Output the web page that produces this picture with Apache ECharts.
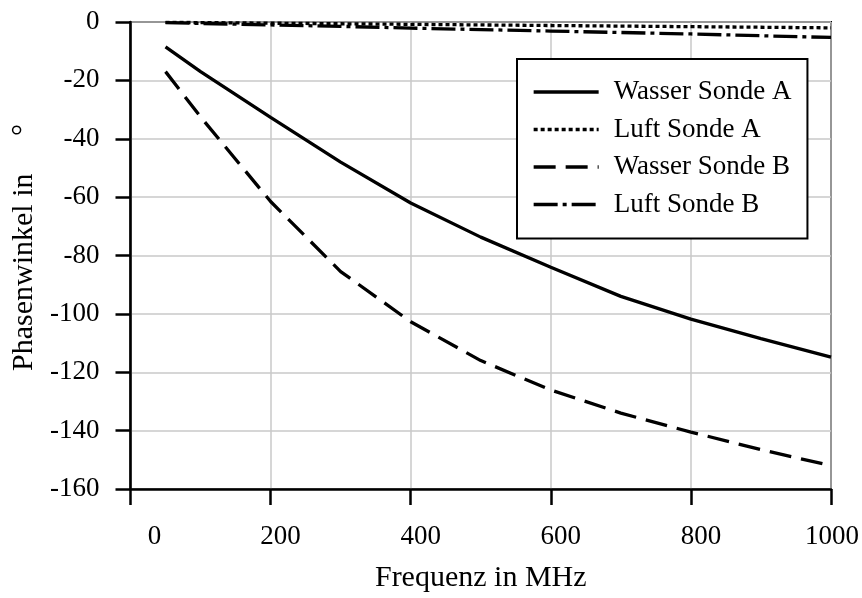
<!DOCTYPE html>
<html>
<head>
<meta charset="utf-8">
<script src="https://cdn.jsdelivr.net/npm/echarts@6/dist/echarts.min.js"></script>
<style>
html,body{margin:0;padding:0;background:#fff;}
#chart{width:862px;height:598px;}
</style>
</head>
<body>
<div id="chart"></div>
<script>
// Data
var freq = [50, 100, 200, 300, 400, 500, 600, 700, 800, 900, 1000];
var wasserA = [-8.5, -17, -32.7, -48, -62, -73.7, -84, -94, -101.8, -108.5, -114.8];
var luftA   = [-0.1, -0.2, -0.4, -0.6, -0.8, -1.0, -1.2, -1.4, -1.6, -1.8, -2.0];
var wasserB = [-17, -32.5, -61.5, -85.5, -102.7, -116, -126.1, -134, -140.5, -146.5, -152];
var luftB   = [-0.2, -0.5, -1.0, -1.5, -2.1, -2.6, -3.1, -3.6, -4.1, -4.7, -5.3];
var seriesNames = ['Wasser Sonde A', 'Luft Sonde A', 'Wasser Sonde B', 'Luft Sonde B'];
var xTicks = [0, 200, 400, 600, 800, 1000];
var yTicks = [0, -20, -40, -60, -80, -100, -120, -140, -160];
var xTitle = 'Frequenz in MHz';
var yTitle = 'Phasenwinkel in     °';

function pairs(xs, ys) { return xs.map(function (x, i) { return [x, ys[i]]; }); }

var FONT = 'Liberation Serif';
var chart = echarts.init(document.getElementById('chart'), null, {renderer: 'canvas'});

function mkSeries(name, ys, type) {
  return {
    name: name,
    type: 'line',
    data: pairs(freq, ys),
    symbol: 'none',
    showSymbol: false,
    smooth: false,
    lineStyle: {color: '#000', width: 3.3, type: type},
    itemStyle: {color: '#000'},
    z: 5
  };
}

var option = {
  backgroundColor: '#fff',
  animation: false,
  textStyle: {fontFamily: FONT},
  grid: {
    left: 130.5, right: 30, top: 22, bottom: 109,
    show: true, borderColor: '#000', borderWidth: 2, backgroundColor: 'transparent'
  },
  legend: {
    data: seriesNames,
    orient: 'vertical',
    left: 517, top: 59,
    backgroundColor: '#fff',
    borderColor: '#000', borderWidth: 2,
    padding: [18, 16, 19, 15],
    itemGap: 7.5,
    itemWidth: 65,
    itemHeight: 14,
    itemStyle: {opacity: 0},
    lineStyle: {width: 3.3},
    textStyle: {fontFamily: FONT, fontSize: 27, color: '#000', lineHeight: 30, padding: [0, 0, 0, 10]},
    z: 10
  },
  xAxis: {
    type: 'value',
    min: 0, max: 1000, interval: 200,
    name: xTitle,
    nameLocation: 'middle',
    nameGap: 74,
    nameTextStyle: {fontFamily: FONT, fontSize: 30, color: '#000'},
    axisLine: {show: true, onZero: false, lineStyle: {color: '#000', width: 2.5}},
    axisTick: {show: true, inside: false, length: 16, lineStyle: {color: '#000', width: 2.5}},
    axisLabel: {
      margin: 34,
      color: '#000',
      fontFamily: FONT, fontSize: 27,
      formatter: function (v) {
        if (v === 0) return '{z|' + v + '}';
        if (v === 1000) return '{e|' + v + '}';
        return '{n|' + v + '}';
      },
      rich: {
        z: {fontFamily: FONT, fontSize: 27, color: '#000', padding: [0, 0, 0, 48]},
        n: {fontFamily: FONT, fontSize: 27, color: '#000', padding: [0, 0, 0, 20]},
        e: {fontFamily: FONT, fontSize: 27, color: '#000', padding: [0, 0, 0, 2]}
      }
    },
    splitLine: {show: true, lineStyle: {color: '#c8c8c8', width: 1.5}}
  },
  yAxis: {
    type: 'value',
    min: -160, max: 0, interval: 20,
    name: yTitle,
    nameLocation: 'middle',
    nameGap: 90,
    nameRotate: 90,
    nameTextStyle: {fontFamily: FONT, fontSize: 30, color: '#000', padding: [0, 0, 0, 16]},
    axisLine: {show: true, onZero: false, lineStyle: {color: '#000', width: 2.5}},
    axisTick: {show: true, inside: false, length: 15, lineStyle: {color: '#000', width: 2.5}},
    axisLabel: {margin: 31, color: '#000', fontFamily: FONT, fontSize: 27},
    splitLine: {show: true, lineStyle: {color: '#c8c8c8', width: 1.5}}
  },
  series: [
    mkSeries(seriesNames[0], wasserA, 'solid'),
    mkSeries(seriesNames[1], luftA, [4, 3]),
    mkSeries(seriesNames[2], wasserB, [22, 10]),
    mkSeries(seriesNames[3], luftB, [24, 5, 4, 5])
  ]
};
chart.setOption(option);
</script>
</body>
</html>
